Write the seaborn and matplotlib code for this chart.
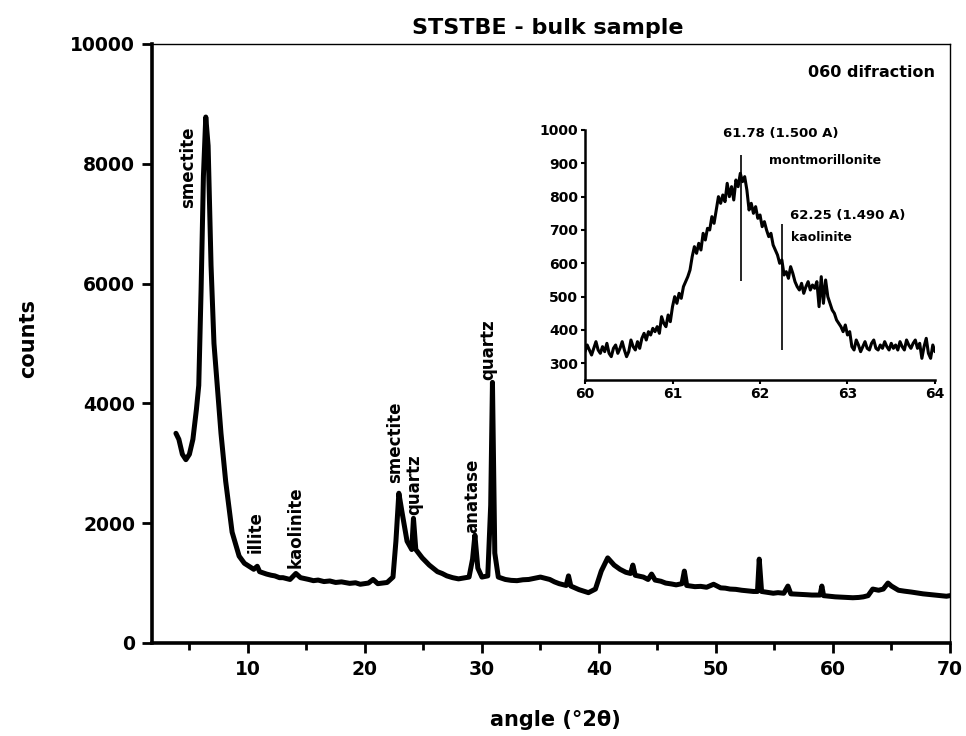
import matplotlib
matplotlib.use("Agg")
import matplotlib.pyplot as plt
import seaborn as sns
import pandas as pd

# Full XRD scan of the bulk sample (angle in degrees 2-theta, intensity in counts)
scan_angle = [3.85, 4.1, 4.4, 4.7, 5.0, 5.3, 5.6, 5.8, 6.0, 6.2, 6.4, 6.6, 6.85, 7.1, 7.3,
              7.7, 8.1, 8.65, 9.25, 9.7, 10.1, 10.5, 10.8, 11.0, 11.6, 12.0, 12.3, 12.7,
              13.0, 13.6, 14.1, 14.5, 15.2, 15.6, 16.0, 16.5, 17.0, 17.5, 18.0, 18.7, 19.2,
              19.6, 20.3, 20.7, 21.1, 21.5, 21.9, 22.4, 22.65, 22.9, 23.2, 23.6, 24.0,
              24.15, 24.35, 24.9, 25.5, 26.2, 26.6, 27.0, 27.5, 28.0, 28.9, 29.2, 29.4,
              29.65, 30.0, 30.5, 30.75, 30.9, 31.1, 31.4, 32.0, 32.5, 33.0, 33.5, 34.0,
              34.5, 35.0, 35.8, 36.2, 36.6, 37.2, 37.4, 37.6, 38.3, 39.1, 39.7, 40.2,
              40.75, 41.3, 41.8, 42.3, 42.7, 42.9, 43.1, 43.8, 44.2, 44.5, 44.8, 45.3,
              45.7, 46.2, 46.6, 47.1, 47.3, 47.5, 48.2, 48.7, 49.2, 49.8, 50.4, 50.8,
              51.2, 51.7, 52.2, 52.7, 53.2, 53.55, 53.7, 53.9, 54.4, 54.9, 55.3, 55.8,
              56.15, 56.4, 56.9, 57.3, 57.8, 58.2, 58.9, 59.05, 59.2, 59.7, 60.2, 60.7,
              61.2, 61.7, 62.2, 62.6, 63.0, 63.4, 63.9, 64.3, 64.7, 65.0, 65.6, 66.1,
              66.7, 67.2, 67.7, 68.2, 68.7, 69.2, 69.7, 70.0]
scan_counts = [3500, 3400, 3150, 3060, 3150, 3400, 3900, 4300, 5900, 7800, 8780, 8300, 6300,
               5000, 4500, 3500, 2700, 1850, 1450, 1330, 1280, 1230, 1280, 1190, 1150, 1130,
               1120, 1090, 1090, 1060, 1160, 1090, 1060, 1040, 1050, 1025, 1035, 1010, 1020,
               995, 1005, 980, 1000, 1060, 990, 1000, 1010, 1100, 1700, 2500, 2150, 1700,
               1560, 2080, 1560, 1420, 1300, 1190, 1160, 1120, 1090, 1070, 1100, 1400, 1800,
               1250, 1100, 1120, 2300, 4350, 1500, 1100, 1060, 1045, 1040, 1055, 1060, 1080,
               1100, 1060, 1020, 990, 960, 1120, 950, 890, 840, 900, 1200, 1420, 1300, 1230,
               1180, 1160, 1300, 1130, 1100, 1060, 1150, 1050, 1030, 1000, 985, 970, 990,
               1200, 960, 940, 945, 930, 980, 920, 915, 900, 895, 880, 870, 860, 860, 1400,
               860, 845, 830, 840, 830, 950, 820, 815, 810, 805, 800, 800, 950, 790, 780, 770,
               765, 760, 755, 760, 770, 790, 900, 880, 900, 1000, 950, 880, 865, 850, 835,
               820, 810, 800, 790, 780, 790]

# Detail of the 060 reflection
detail_angle = [60.000, 60.025, 60.050, 60.075, 60.100, 60.125, 60.150, 60.175, 60.200, 60.225,
                60.250, 60.275, 60.300, 60.325, 60.350, 60.375, 60.400, 60.425, 60.450, 60.475,
                60.500, 60.525, 60.550, 60.575, 60.600, 60.625, 60.650, 60.675, 60.700, 60.725,
                60.750, 60.775, 60.800, 60.825, 60.850, 60.875, 60.900, 60.925, 60.950, 60.975,
                61.000, 61.025, 61.050, 61.075, 61.100, 61.125, 61.150, 61.175, 61.200, 61.225,
                61.250, 61.275, 61.300, 61.325, 61.350, 61.375, 61.400, 61.425, 61.450, 61.475,
                61.500, 61.525, 61.550, 61.575, 61.600, 61.625, 61.650, 61.675, 61.700, 61.725,
                61.750, 61.775, 61.800, 61.825, 61.850, 61.875, 61.900, 61.925, 61.950, 61.975,
                62.000, 62.025, 62.050, 62.075, 62.100, 62.125, 62.150, 62.175, 62.200, 62.225,
                62.250, 62.275, 62.300, 62.325, 62.350, 62.375, 62.400, 62.425, 62.450, 62.475,
                62.500, 62.525, 62.550, 62.575, 62.600, 62.625, 62.650, 62.675, 62.700, 62.725,
                62.750, 62.775, 62.800, 62.825, 62.850, 62.875, 62.900, 62.925, 62.950, 62.975,
                63.000, 63.025, 63.050, 63.075, 63.100, 63.125, 63.150, 63.175, 63.200, 63.225,
                63.250, 63.275, 63.300, 63.325, 63.350, 63.375, 63.400, 63.425, 63.450, 63.475,
                63.500, 63.525, 63.550, 63.575, 63.600, 63.625, 63.650, 63.675, 63.700, 63.725,
                63.750, 63.775, 63.800, 63.825, 63.850, 63.875, 63.900, 63.925, 63.950, 63.975,
                64.000]
detail_counts = [335, 355, 340, 325, 345, 365, 340, 330, 350, 335,
                 360, 330, 320, 345, 355, 330, 345, 365, 340, 320,
                 335, 370, 350, 340, 365, 345, 375, 390, 370, 395,
                 385, 405, 395, 410, 390, 440, 420, 410, 445, 425,
                 470, 500, 480, 510, 495, 530, 545, 560, 580, 620,
                 650, 630, 660, 640, 690, 670, 705, 700, 740, 720,
                 760, 800, 780, 805, 785, 840, 800, 830, 790, 850,
                 830, 870, 845, 860, 820, 760, 780, 750, 770, 735,
                 745, 710, 725, 700, 680, 690, 655, 640, 625, 600,
                 610, 565, 575, 555, 590, 570, 545, 530, 520, 540,
                 510, 530, 545, 520, 535, 525, 545, 470, 560, 480,
                 550, 500, 480, 460, 450, 430, 420, 410, 395, 415,
                 385, 395, 350, 340, 370, 355, 335, 350, 365, 345,
                 340, 360, 370, 345, 340, 355, 345, 365, 350, 340,
                 360, 345, 355, 340, 365, 350, 340, 370, 355, 345,
                 360, 370, 345, 360, 315, 350, 375, 330, 315, 355,
                 335]

# Phase labels on the full scan: name, angle, lower end of the label (counts)
phase_names = ["smectite", "illite", "kaolinite", "smectite", "quartz", "anatase", "quartz"]
phase_angle = [4.9, 10.7, 14.1, 22.6, 24.2, 29.2, 30.5]
phase_base = [7260, 1500, 1250, 2670, 2140, 1840, 4390]

# Reference positions marked in the 060 detail
ref_angle = [61.78, 62.25]
ref_low = [547, 340]
ref_high = [925, 718]
ref_text = ["61.78 (1.500 A)", "62.25 (1.490 A)"]
ref_mineral = ["montmorillonite", "kaolinite"]

main_x_ticks = [10, 20, 30, 40, 50, 60, 70]
main_y_ticks = [0, 2000, 4000, 6000, 8000, 10000]
detail_x_ticks = [60, 61, 62, 63, 64]
detail_y_ticks = [300, 400, 500, 600, 700, 800, 900, 1000]

sns.set_theme(style="ticks")
plt.rcParams["font.family"] = ["DejaVu Sans"]
plt.rcParams["font.weight"] = "bold"
for key in ["text.color", "axes.labelcolor", "xtick.color", "ytick.color", "axes.edgecolor"]:
    plt.rcParams[key] = "black"

scan = pd.DataFrame({"angle": scan_angle, "counts": scan_counts})
detail = pd.DataFrame({"angle": detail_angle, "counts": detail_counts})

fig = plt.figure(figsize=(9.66, 7.36), dpi=100)
ax = fig.add_axes([0.1573, 0.1264, 0.8261, 0.8139])

sns.lineplot(data=scan, x="angle", y="counts", ax=ax, color="black", linewidth=3.6,
             estimator=None)
ax.set_xlim(1.8, 70)
ax.set_ylim(0, 10000)
ax.set_xticks(main_x_ticks)
ax.set_xticks([5, 15, 25, 35, 45, 55, 65], minor=True)
ax.set_yticks(main_y_ticks)
ax.tick_params(axis="both", which="major", direction="out", length=7, width=2,
               labelsize=13.5, color="black", labelcolor="black")
ax.tick_params(axis="x", which="minor", direction="out", length=5, width=2, color="black")
ax.tick_params(axis="x", which="major", pad=5)
ax.tick_params(axis="y", which="major", pad=5)
for lab in ax.get_xticklabels() + ax.get_yticklabels():
    lab.set_fontweight("bold")
for side in ["left", "bottom"]:
    ax.spines[side].set_linewidth(2.6)
for side in ["top", "right"]:
    ax.spines[side].set_linewidth(1.0)

ax.set_xlabel("angle (°2θ)", fontsize=15, fontweight="bold", va="center")
ax.xaxis.set_label_coords(0.505, -0.1285)
ax.set_ylabel("counts", fontsize=15, fontweight="bold", va="center")
ax.yaxis.set_label_coords(-0.155, 0.509)

fig.text(0.567, 1 - 28 / 736, "STSTBE - bulk sample", ha="center", va="center",
         fontsize=16, fontweight="bold")
ax.text(0.981, 0.953, "060 difraction", transform=ax.transAxes, ha="right",
        va="center", fontsize=11.5, fontweight="bold")

for name, xa, yb in zip(phase_names, phase_angle, phase_base):
    ax.text(xa, yb, name, rotation=90, ha="center", va="bottom", fontsize=12,
            fontweight="bold")

# Inset with the 060 reflection
ins = fig.add_axes([0.6056, 0.4837, 0.3623, 0.3397])
sns.lineplot(data=detail, x="angle", y="counts", ax=ins, color="black", linewidth=2.2,
             estimator=None)
ins.set_xlim(60, 64)
ins.set_ylim(250, 1000)
ins.set_xticks(detail_x_ticks)
ins.set_yticks(detail_y_ticks)
ins.tick_params(axis="both", direction="out", length=3, width=1.5, labelsize=10,
                pad=2, color="black", labelcolor="black")
for lab in ins.get_xticklabels() + ins.get_yticklabels():
    lab.set_fontweight("bold")
ins.spines["top"].set_visible(False)
ins.spines["right"].set_visible(False)
for side in ["left", "bottom"]:
    ins.spines[side].set_linewidth(1.8)
ins.set_xlabel("")
ins.set_ylabel("")
ins.patch.set_alpha(0)

ins.vlines(ref_angle, ref_low, ref_high, color="black", linewidth=1.2)
ins.text(61.58, 990, ref_text[0], ha="left", va="center", fontsize=9.5, fontweight="bold")
ins.text(62.10, 909, ref_mineral[0], ha="left", va="center", fontsize=9, fontweight="bold")
ins.text(62.34, 743, ref_text[1], ha="left", va="center", fontsize=9.5, fontweight="bold")
ins.text(62.36, 678, ref_mineral[1], ha="left", va="center", fontsize=9, fontweight="bold")

fig.savefig("out.png", dpi=100, facecolor="white")
